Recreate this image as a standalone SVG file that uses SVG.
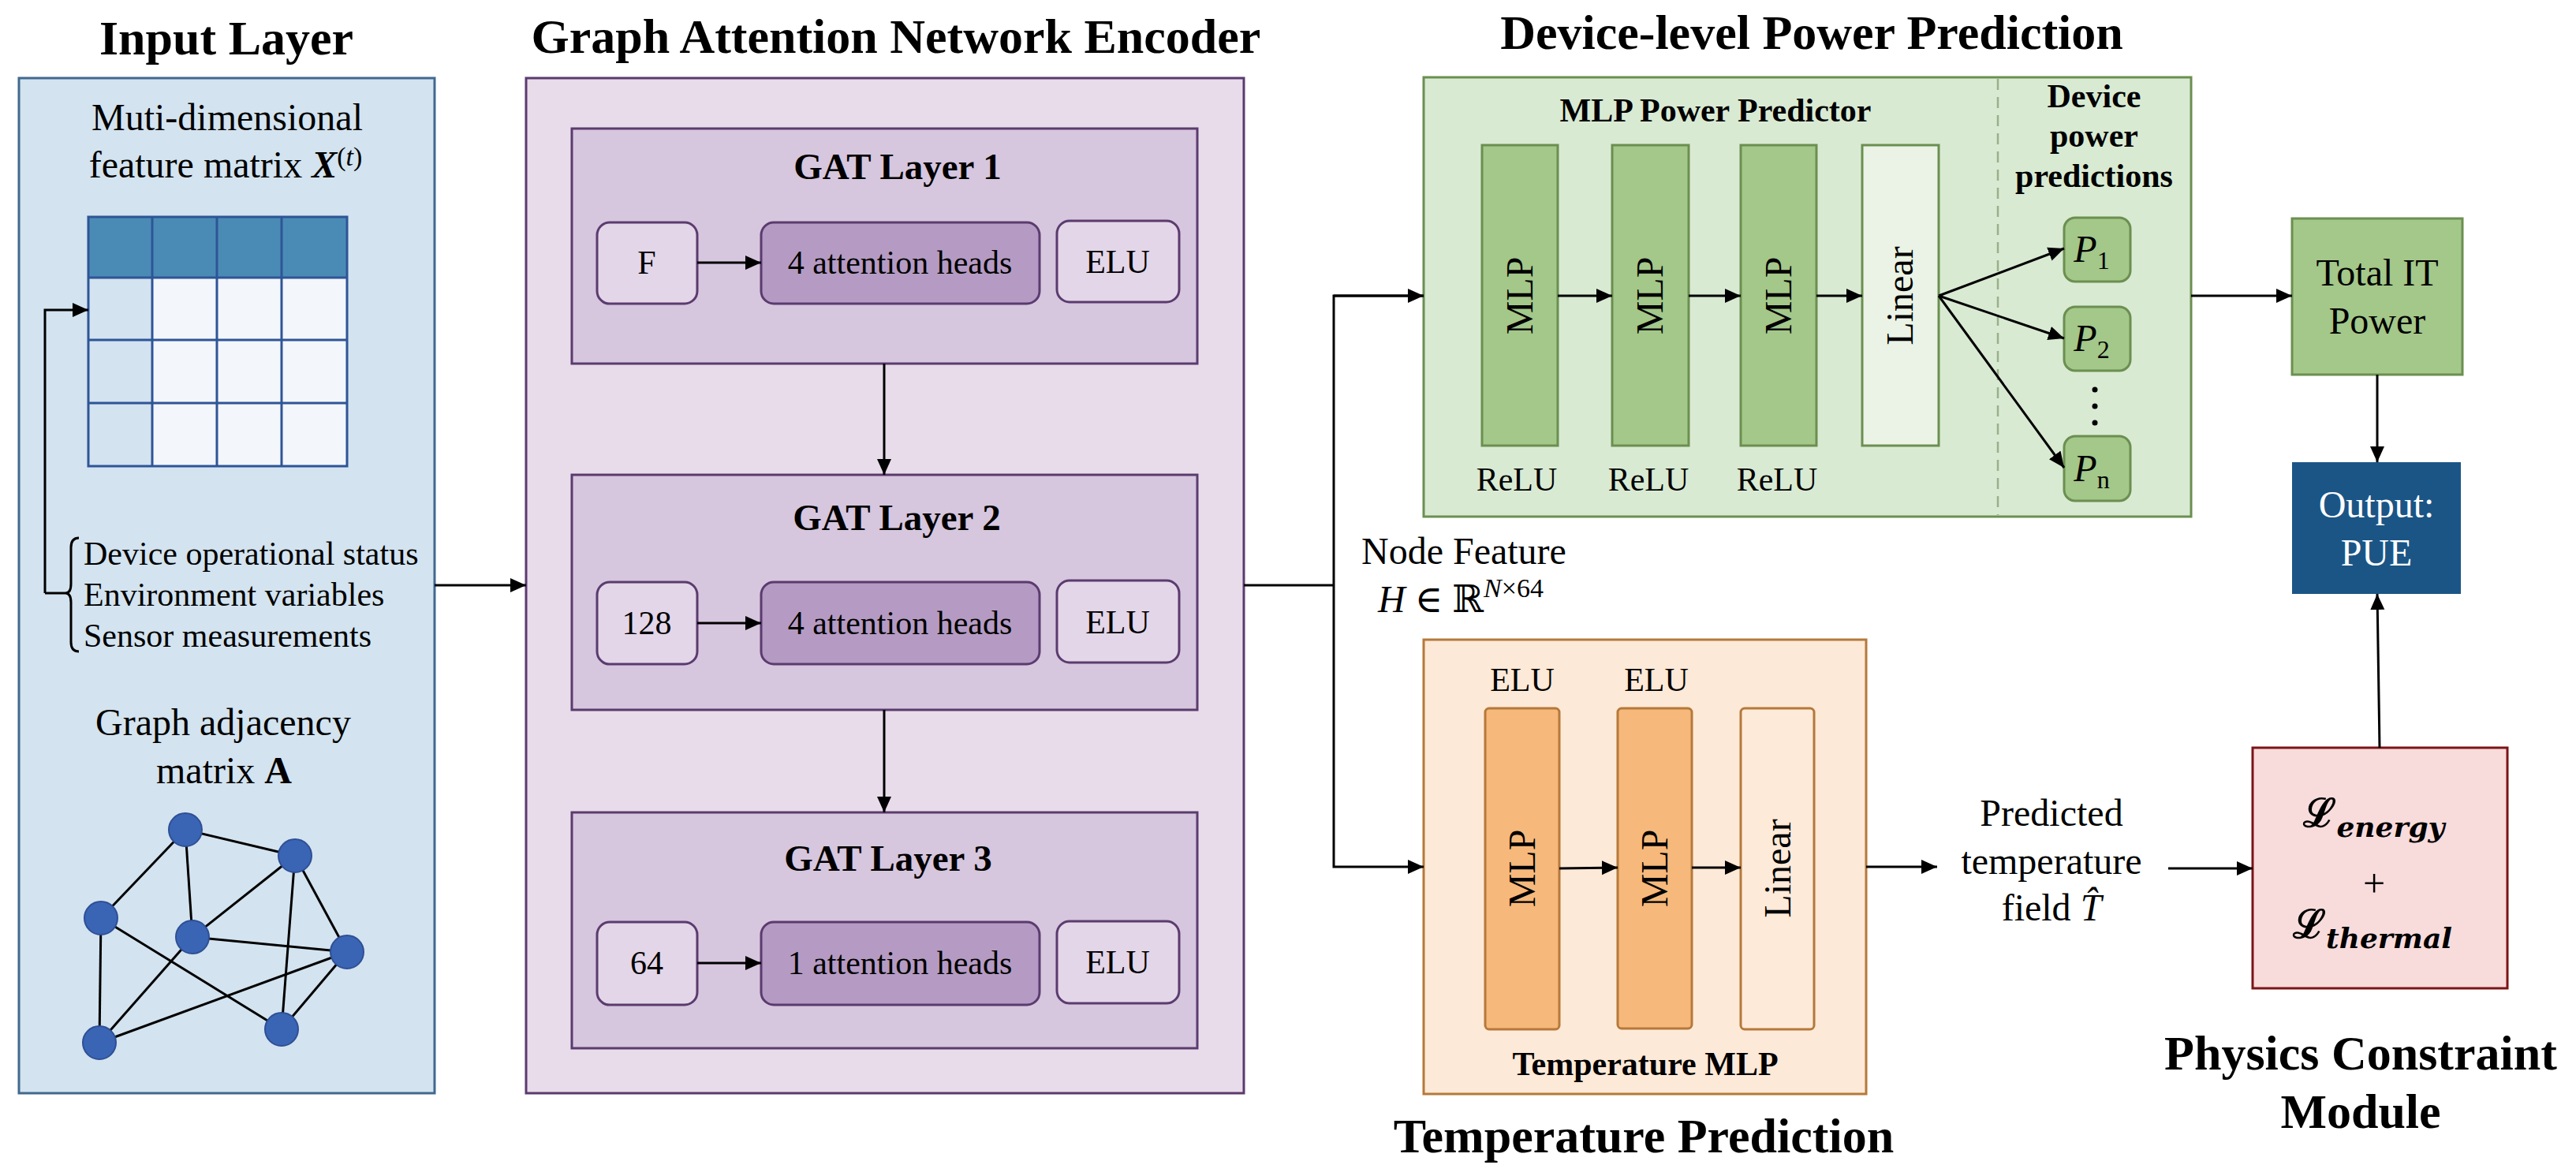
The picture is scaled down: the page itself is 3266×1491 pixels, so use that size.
<svg xmlns="http://www.w3.org/2000/svg" width="3266" height="1491" viewBox="0 0 3266 1491">
<defs>
<style>
text{font-family:"Liberation Serif","Times New Roman","DejaVu Serif",serif;fill:#000}
.title{font-size:62px;font-weight:bold}
.t48{font-size:48px}
.t42{font-size:42px}
.b42{font-size:42px;font-weight:bold}
.mid{text-anchor:middle}
.conn{stroke:#000;stroke-width:3;fill:none}
.gat{fill:#d6c6de;stroke:#5b3b6f;stroke-width:3}
.sm{fill:#e3d6e8;stroke:#5b3b6f;stroke-width:3}
.att{fill:#b59bc3;stroke:#5b3b6f;stroke-width:3}
.gbar{fill:#a4c78a;stroke:#6b8f50;stroke-width:3}
.obar{fill:#f6b87b;stroke:#b5793a;stroke-width:3}
.gn{fill:#3a65b5;stroke:#2f4f94;stroke-width:2}
.edge{stroke:#000;stroke-width:3}
.cell{stroke:#2e5597;stroke-width:3;fill:none}
</style>
<marker id="ah" markerUnits="userSpaceOnUse" markerWidth="22" markerHeight="20" refX="20" refY="10" orient="auto"><path d="M0,1 L20,10 L0,19 z" fill="#000"/></marker>
</defs>
<rect width="3266" height="1491" fill="#fff"/>

<!-- Input Layer -->
<g id="input-layer">
<text class="title mid" x="287" y="69">Input Layer</text>
<rect x="24" y="99" width="527" height="1287" fill="#d3e3ef" stroke="#41698f" stroke-width="3"/>
<text class="t48 mid" x="288" y="165">Muti-dimensional</text>
<text class="t48 mid" x="286" y="225">feature matrix <tspan font-weight="bold" font-style="italic">X</tspan><tspan font-size="34" dy="-15">(</tspan><tspan font-size="34" font-style="italic">t</tspan><tspan font-size="34">)</tspan></text>
<g id="feature-matrix">
<rect x="112" y="352" width="328" height="239" fill="#f3f6fb"/>
<rect x="112" y="352" width="81" height="239" fill="#d3e3ef"/>
<rect x="112" y="275" width="328" height="77" fill="#4a8bb5"/>
<rect class="cell" x="112" y="275" width="328" height="316"/>
<path class="cell" d="M193,275V591M275,275V591M357,275V591M112,352H440M112,431H440M112,511H440"/>
</g>
<path d="M100,682 Q90,682 90,694 L90,740 Q90,752 83,752 Q90,752 90,764 L90,814 Q90,826 100,826" fill="none" stroke="#000" stroke-width="3"/>
<text class="t42" x="106" y="716">Device operational status</text>
<text class="t42" x="106" y="768">Environment variables</text>
<text class="t42" x="106" y="820">Sensor measurements</text>
<text class="t48 mid" x="283" y="932">Graph adjacency</text>
<text class="t48 mid" x="284" y="993">matrix <tspan font-weight="bold">A</tspan></text>
<g id="graph">
<line class="edge" x1="235" y1="1052" x2="374" y2="1085"/>
<line class="edge" x1="235" y1="1052" x2="128" y2="1164"/>
<line class="edge" x1="235" y1="1052" x2="244" y2="1188"/>
<line class="edge" x1="374" y1="1085" x2="244" y2="1188"/>
<line class="edge" x1="374" y1="1085" x2="357" y2="1305"/>
<line class="edge" x1="374" y1="1085" x2="440" y2="1207"/>
<line class="edge" x1="128" y1="1164" x2="126" y2="1322"/>
<line class="edge" x1="128" y1="1164" x2="357" y2="1305"/>
<line class="edge" x1="244" y1="1188" x2="440" y2="1207"/>
<line class="edge" x1="244" y1="1188" x2="126" y2="1322"/>
<line class="edge" x1="126" y1="1322" x2="440" y2="1207"/>
<line class="edge" x1="440" y1="1207" x2="357" y2="1305"/>
<ellipse class="gn" cx="235" cy="1052" rx="21" ry="21"/>
<ellipse class="gn" cx="374" cy="1085" rx="21" ry="21"/>
<ellipse class="gn" cx="128" cy="1164" rx="21" ry="21"/>
<ellipse class="gn" cx="244" cy="1188" rx="21" ry="21"/>
<ellipse class="gn" cx="440" cy="1207" rx="21" ry="21"/>
<ellipse class="gn" cx="357" cy="1305" rx="21" ry="21"/>
<ellipse class="gn" cx="126" cy="1322" rx="21" ry="21"/>
</g>
</g>

<!-- GAT Encoder -->
<g id="gat-encoder">
<text class="title mid" x="1136" y="67">Graph Attention Network Encoder</text>
<rect x="667" y="99" width="910" height="1287" fill="#e8dcea" stroke="#5b3b6f" stroke-width="3"/>
</g>
<g id="gat-layer-1">
<rect class="gat" x="725" y="163" width="793" height="298"/>
<text class="title mid" style="font-size:47px" x="1138" y="227">GAT Layer 1</text>
<rect class="sm" x="757" y="282" width="127" height="103" rx="16"/>
<text class="t42 mid" x="820" y="347">F</text>
<rect class="att" x="965" y="282" width="353" height="103" rx="16"/>
<text class="t42 mid" x="1141" y="347">4 attention heads</text>
<rect class="sm" x="1340" y="280" width="155" height="103" rx="16"/>
<text class="t42 mid" x="1417" y="346">ELU</text>
</g>
<g id="gat-layer-2">
<rect class="gat" x="725" y="602" width="793" height="298"/>
<text class="title mid" style="font-size:47px" x="1137" y="672">GAT Layer 2</text>
<rect class="sm" x="757" y="738" width="127" height="104" rx="16"/>
<text class="t42 mid" x="820" y="804">128</text>
<rect class="att" x="965" y="738" width="353" height="104" rx="16"/>
<text class="t42 mid" x="1141" y="804">4 attention heads</text>
<rect class="sm" x="1340" y="736" width="155" height="104" rx="16"/>
<text class="t42 mid" x="1417" y="803">ELU</text>
</g>
<g id="gat-layer-3">
<rect class="gat" x="725" y="1030" width="793" height="299"/>
<text class="title mid" style="font-size:47px" x="1126" y="1104">GAT Layer 3</text>
<rect class="sm" x="757" y="1169" width="127" height="105" rx="16"/>
<text class="t42 mid" x="820" y="1235">64</text>
<rect class="att" x="965" y="1169" width="353" height="105" rx="16"/>
<text class="t42 mid" x="1141" y="1235">1 attention heads</text>
<rect class="sm" x="1340" y="1168" width="155" height="104" rx="16"/>
<text class="t42 mid" x="1417" y="1234">ELU</text>
</g>

<!-- Device-level Power Prediction -->
<g id="power-prediction">
<text class="title mid" x="2297" y="62">Device-level Power Prediction</text>
<rect x="1805" y="98" width="973" height="557" fill="#d9ead3" stroke="#6b8f50" stroke-width="3"/>
<line x1="2533" y1="100" x2="2533" y2="653" stroke="#98b08c" stroke-width="2.5" stroke-dasharray="14,9"/>
<text class="b42 mid" x="2175" y="154">MLP Power Predictor</text>
<rect class="gbar" x="1879" y="184" width="96" height="381"/>
<text class="t48 mid" x="1927" y="391" transform="rotate(-90 1927 375)">MLP</text>
<rect class="gbar" x="2044" y="184" width="97" height="381"/>
<text class="t48 mid" x="2092" y="391" transform="rotate(-90 2092 375)">MLP</text>
<rect class="gbar" x="2207" y="184" width="96" height="381"/>
<text class="t48 mid" x="2255" y="391" transform="rotate(-90 2255 375)">MLP</text>
<rect x="2361" y="184" width="97" height="381" fill="#eaf3e5" stroke="#6b8f50" stroke-width="3"/>
<text class="t48 mid" x="2409" y="391" transform="rotate(-90 2409 375)">Linear</text>
<text class="t42 mid" x="1923" y="622">ReLU</text>
<text class="t42 mid" x="2090" y="622">ReLU</text>
<text class="t42 mid" x="2253" y="622">ReLU</text>
<text class="b42 mid" x="2655" y="136">Device</text>
<text class="b42 mid" x="2655" y="186">power</text>
<text class="b42 mid" x="2655" y="237">predictions</text>
</g>
<g id="p1">
<rect class="gbar" x="2617" y="276" width="84" height="81" rx="14"/>
<text class="t48 mid" x="2652" y="332"><tspan font-style="italic">P</tspan><tspan font-size="32" dy="9">1</tspan></text>
</g>
<g id="p2">
<rect class="gbar" x="2617" y="389" width="84" height="81" rx="14"/>
<text class="t48 mid" x="2652" y="445"><tspan font-style="italic">P</tspan><tspan font-size="32" dy="9">2</tspan></text>
</g>
<g id="pn">
<rect class="gbar" x="2617" y="553" width="84" height="82" rx="14"/>
<text class="t48 mid" x="2652" y="610"><tspan font-style="italic">P</tspan><tspan font-size="32" dy="9">n</tspan></text>
</g>
<g id="dots" fill="#000">
<circle cx="2656" cy="494" r="3.5"/>
<circle cx="2656" cy="515" r="3.5"/>
<circle cx="2656" cy="536" r="3.5"/>
</g>

<!-- Total IT Power -->
<g id="total-it">
<rect x="2906" y="277" width="216" height="198" fill="#a4c78a" stroke="#6b8f50" stroke-width="3"/>
<text class="t48 mid" x="3014" y="362">Total IT</text>
<text class="t48 mid" x="3014" y="423">Power</text>
</g>
<g id="output">
<rect x="2906" y="586" width="214" height="167" fill="#1b5586"/>
<text class="t48 mid" x="3013" y="656" style="fill:#fff">Output:</text>
<text class="t48 mid" x="3013" y="717" style="fill:#fff">PUE</text>
</g>

<!-- Temperature Prediction -->
<g id="temperature-prediction">
<rect x="1805" y="811" width="561" height="576" fill="#fde9d7" stroke="#b5793a" stroke-width="3"/>
<text class="t42 mid" x="1930" y="876">ELU</text>
<text class="t42 mid" x="2100" y="876">ELU</text>
<rect class="obar" x="1883" y="898" width="94" height="407" rx="5"/>
<text class="t48 mid" x="1930" y="1117" transform="rotate(-90 1930 1101)">MLP</text>
<rect class="obar" x="2051" y="898" width="94" height="406" rx="5"/>
<text class="t48 mid" x="2098" y="1117" transform="rotate(-90 2098 1101)">MLP</text>
<rect x="2207" y="898" width="93" height="407" rx="5" fill="#fdead9" stroke="#b5793a" stroke-width="3"/>
<text class="t48 mid" x="2254" y="1117" transform="rotate(-90 2254 1101)">Linear</text>
<text class="b42 mid" x="2086" y="1363">Temperature MLP</text>
<text class="title mid" x="2084" y="1461">Temperature Prediction</text>
</g>

<!-- Physics -->
<g id="physics">
<rect x="2856" y="948" width="323" height="305" fill="#f8dbdb" stroke="#7b1416" stroke-width="3"/>
<text class="mid" x="3010" y="1048" style="font-family:'DejaVu Serif',serif;font-size:50px;font-weight:bold">ℒ<tspan font-size="36" font-style="italic" dy="13">energy</tspan></text>
<text class="mid" x="3010" y="1137" style="font-size:50px">+</text>
<text class="mid" x="3008" y="1189" style="font-family:'DejaVu Serif',serif;font-size:50px;font-weight:bold">ℒ<tspan font-size="36" font-style="italic" dy="13">thermal</tspan></text>
<text class="title mid" x="2993" y="1356">Physics Constraint</text>
<text class="title mid" x="2993" y="1430">Module</text>
</g>

<!-- free labels -->
<g id="labels">
<text class="t48" x="1726" y="715">Node Feature</text>
<text class="t48" x="1747" y="776"><tspan font-style="italic">H</tspan> ∈ ℝ<tspan font-size="34" dy="-19" font-style="italic">N</tspan><tspan font-size="34">×64</tspan></text>
<text class="t48 mid" x="2601" y="1047">Predicted</text>
<text class="t48 mid" x="2601" y="1108">temperature</text>
<text class="t48 mid" x="2601" y="1167">field <tspan font-style="italic">T̂</tspan></text>
</g>

<!-- connectors -->
<g id="connectors">
<path class="conn" d="M57,752 V393 H112" marker-end="url(#ah)"/>
<path class="conn" d="M57,752 H83"/>
<line class="conn" x1="551" y1="742" x2="667" y2="742" marker-end="url(#ah)"/>
<line class="conn" x1="884" y1="333" x2="965" y2="333" marker-end="url(#ah)"/>
<line class="conn" x1="884" y1="790" x2="965" y2="790" marker-end="url(#ah)"/>
<line class="conn" x1="884" y1="1221" x2="965" y2="1221" marker-end="url(#ah)"/>
<line class="conn" x1="1121" y1="461" x2="1121" y2="602" marker-end="url(#ah)"/>
<line class="conn" x1="1121" y1="900" x2="1121" y2="1030" marker-end="url(#ah)"/>
<line class="conn" x1="1577" y1="742" x2="1691" y2="742"/>
<path class="conn" d="M1805,375 H1691 V1099 H1805" marker-start="url(#ah)" marker-end="url(#ah)" style="marker-start:none"/>
<line class="conn" x1="1691" y1="375" x2="1805" y2="375" marker-end="url(#ah)"/>
<line class="conn" x1="1975" y1="375" x2="2044" y2="375" marker-end="url(#ah)"/>
<line class="conn" x1="2141" y1="375" x2="2207" y2="375" marker-end="url(#ah)"/>
<line class="conn" x1="2303" y1="375" x2="2361" y2="375" marker-end="url(#ah)"/>
<line class="conn" x1="2458" y1="375" x2="2617" y2="315" marker-end="url(#ah)"/>
<line class="conn" x1="2458" y1="375" x2="2617" y2="429" marker-end="url(#ah)"/>
<line class="conn" x1="2458" y1="375" x2="2617" y2="593" marker-end="url(#ah)"/>
<line class="conn" x1="2778" y1="375" x2="2906" y2="375" marker-end="url(#ah)"/>
<line class="conn" x1="3014" y1="475" x2="3014" y2="586" marker-end="url(#ah)"/>
<line class="conn" x1="1977" y1="1101" x2="2051" y2="1100" marker-end="url(#ah)"/>
<line class="conn" x1="2145" y1="1100" x2="2207" y2="1100" marker-end="url(#ah)"/>
<line class="conn" x1="2366" y1="1099" x2="2456" y2="1099" marker-end="url(#ah)"/>
<line class="conn" x1="2749" y1="1101" x2="2856" y2="1101" marker-end="url(#ah)"/>
<line class="conn" x1="3017" y1="948" x2="3014" y2="753" marker-end="url(#ah)"/>
</g>
</svg>
